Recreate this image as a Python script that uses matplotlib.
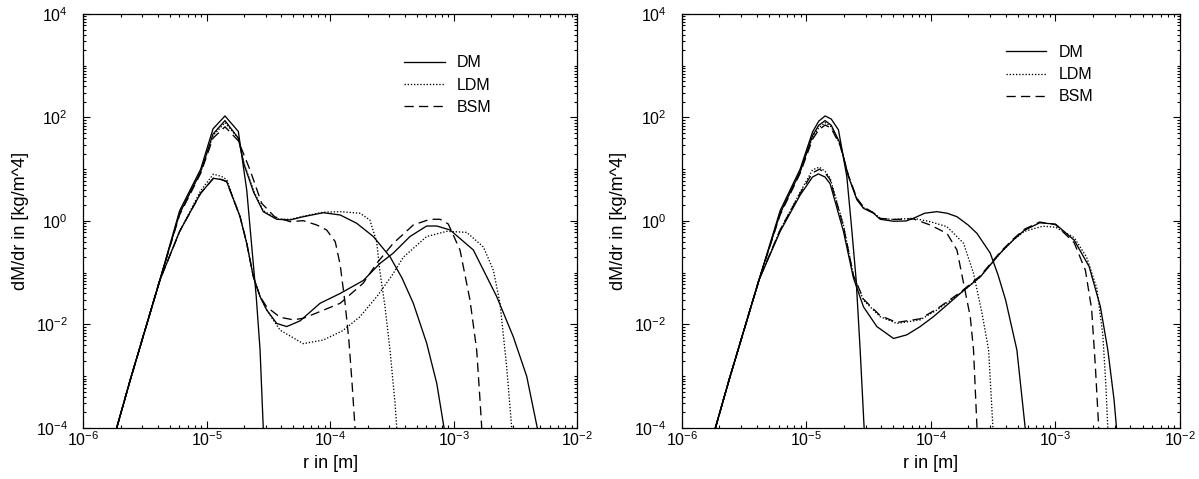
import numpy as np
import matplotlib
matplotlib.use("Agg")
import matplotlib.pyplot as plt
from matplotlib.ticker import FixedLocator, LogLocator, LogFormatterSciNotation, NullFormatter
from matplotlib.lines import Line2D

plt.rcParams['font.family'] = ['Liberation Sans', 'DejaVu Sans']
plt.rcParams['mathtext.default'] = 'regular'

# all values as log10 exponents: (log10 r, log10 dM/dr)

# shared rising flank
rise_lr = [-5.73, -5.62, -5.38]
rise_lv = [-4.0, -3.07, -1.14]

# ---------------- left panel ----------------
L_init_lr = rise_lr + [-5.22, -5.05, -4.95, -4.853, -4.745, -4.677, -4.636, -4.60, -4.569, -4.543]
L_init_lv = rise_lv + [0.20, 1.0, 1.78, 2.03, 1.73, 0.60, -0.50, -1.46, -2.49, -4.0]

L_dm1_lr = rise_lr + [-5.22, -5.05, -4.95, -4.853, -4.745, -4.70, -4.62, -4.543, -4.434, -4.326, -4.219,
                      -4.057, -3.92, -3.786, -3.652, -3.517, -3.42, -3.328, -3.22, -3.138, -3.079]
L_dm1_lv = rise_lv + [0.15, 0.95, 1.68, 1.94, 1.60, 1.10, 0.55, 0.18, 0.033, 0.02, 0.083,
                      0.16, 0.116, -0.045, -0.30, -0.69, -1.10, -1.59, -2.36, -3.14, -4.0]

L_ldm1_lr = rise_lr + [-5.22, -5.05, -4.95, -4.853, -4.745, -4.70, -4.62, -4.543, -4.434, -4.326, -4.219,
                       -4.057, -3.92, -3.76, -3.68, -3.625, -3.60, -3.557, -3.517, -3.476, -3.462]
L_ldm1_lv = rise_lv + [0.15, 0.95, 1.65, 1.90, 1.60, 1.12, 0.58, 0.20, 0.04, 0.03, 0.09,
                       0.17, 0.18, 0.15, 0.02, -0.40, -0.95, -1.66, -2.49, -3.52, -4.0]

L_bsm1_lr = rise_lr + [-5.22, -5.05, -4.95, -4.853, -4.745, -4.65, -4.556, -4.45, -4.326, -4.219, -4.11,
                       -4.03, -3.96, -3.92, -3.88, -3.85, -3.825, -3.80]
L_bsm1_lv = rise_lv + [0.12, 0.92, 1.60, 1.82, 1.55, 0.985, 0.342, 0.08, -0.013, 0.006, -0.077,
                       -0.174, -0.40, -0.85, -1.60, -2.30, -3.10, -4.0]

L_dm2_lr = rise_lr + [-5.22, -5.05, -4.947, -4.88, -4.839, -4.731, -4.677, -4.623, -4.569, -4.515,
                      -4.434, -4.353, -4.245, -4.083, -3.92, -3.733, -3.598, -3.49, -3.355, -3.22, -3.138,
                      -3.03, -2.842, -2.653, -2.518, -2.41, -2.324]
L_dm2_lv = rise_lv + [-0.20, 0.535, 0.825, 0.80, 0.76, 0.083, -0.43, -1.08, -1.46, -1.72,
                      -1.98, -2.04, -1.93, -1.59, -1.40, -1.15, -0.82, -0.62, -0.30, -0.097, -0.097,
                      -0.174, -0.56, -1.46, -2.24, -3.0, -4.0]

L_ldm2_lr = rise_lr + [-5.22, -5.05, -4.947, -4.88, -4.839, -4.731, -4.677, -4.623, -4.569, -4.515,
                       -4.407, -4.219, -4.057, -3.90, -3.76, -3.62, -3.50, -3.409, -3.22, -3.058,
                       -2.896, -2.761, -2.68, -2.626, -2.572, -2.531]
L_ldm2_lv = rise_lv + [-0.20, 0.585, 0.905, 0.86, 0.80, 0.083, -0.43, -1.08, -1.46, -1.72,
                       -2.11, -2.37, -2.30, -2.12, -1.85, -1.45, -1.05, -0.70, -0.30, -0.20,
                       -0.22, -0.50, -0.95, -1.59, -2.82, -4.0]

L_bsm2_lr = rise_lr + [-5.22, -5.05, -4.947, -4.88, -4.839, -4.731, -4.677, -4.623, -4.569, -4.515,
                       -4.407, -4.30, -4.219, -4.083, -3.92, -3.733, -3.625, -3.49, -3.328, -3.193, -3.112,
                       -3.045, -2.95, -2.869, -2.815, -2.788, -2.774]
L_bsm2_lv = rise_lv + [-0.20, 0.535, 0.825, 0.80, 0.76, 0.083, -0.43, -1.08, -1.46, -1.66,
                       -1.86, -1.91, -1.88, -1.75, -1.59, -1.20, -0.82, -0.43, -0.077, 0.033, 0.033,
                       -0.058, -0.56, -1.53, -2.49, -3.46, -4.0]

# ---------------- right panel ----------------
R_init_lr = rise_lr + [-5.21, -5.05, -4.95, -4.90, -4.849, -4.80, -4.742, -4.675, -4.635, -4.60, -4.568, -4.536]
R_init_lv = rise_lv + [0.20, 1.0, 1.72, 1.93, 2.03, 1.97, 1.76, 0.86, -0.17, -1.14, -2.49, -4.0]

R_dm1_lr = rise_lr + [-5.21, -5.05, -4.95, -4.90, -4.849, -4.80, -4.729, -4.662, -4.594, -4.541, -4.461, -4.407,
                      -4.30, -4.20, -4.14, -4.05, -3.952, -3.87, -3.791, -3.70, -3.63, -3.524, -3.46, -3.40,
                      -3.31, -3.243]
R_dm1_lv = rise_lv + [0.15, 0.95, 1.65, 1.85, 1.94, 1.85, 1.50, 0.86, 0.41, 0.245, 0.15, 0.033,
                      -0.005, 0.0, 0.052, 0.15, 0.18, 0.15, 0.083, -0.08, -0.24, -0.62, -1.05, -1.53,
                      -2.49, -4.0]

R_ldm1_lr = rise_lr + [-5.21, -5.05, -4.95, -4.90, -4.849, -4.80, -4.729, -4.662, -4.594, -4.541, -4.461, -4.407,
                       -4.30, -4.14, -4.006, -3.871, -3.738, -3.658, -3.59, -3.537, -3.502]
R_ldm1_lv = rise_lv + [0.15, 0.95, 1.62, 1.80, 1.90, 1.82, 1.48, 0.86, 0.43, 0.26, 0.16, 0.05,
                       0.03, 0.052, -0.013, -0.11, -0.43, -1.01, -1.78, -2.49, -4.0]

R_bsm1_lr = rise_lr + [-5.21, -5.05, -4.95, -4.90, -4.849, -4.80, -4.729, -4.662, -4.594, -4.541, -4.461, -4.407,
                       -4.30, -4.14, -4.006, -3.871, -3.791, -3.738, -3.684, -3.658, -3.63]
R_bsm1_lv = rise_lv + [0.12, 0.92, 1.58, 1.76, 1.855, 1.79, 1.46, 0.88, 0.44, 0.27, 0.16, 0.05,
                       0.03, 0.04, -0.077, -0.24, -0.56, -1.20, -1.85, -2.49, -4.0]

R_dm2_lr = rise_lr + [-5.21, -5.05, -4.95, -4.903, -4.85, -4.809, -4.702, -4.622, -4.541, -4.434, -4.30,
                      -4.193, -4.086, -3.98, -3.85, -3.765, -3.604, -3.443, -3.34, -3.25, -3.127, -3.0,
                      -2.85, -2.73, -2.64, -2.58, -2.53, -2.51]
R_dm2_lv = rise_lv + [-0.20, 0.50, 0.85, 0.91, 0.85, 0.72, -0.20, -1.10, -1.66, -2.04, -2.27,
                      -2.20, -2.04, -1.85, -1.58, -1.40, -1.08, -0.62, -0.37, -0.18, -0.035, -0.06,
                      -0.37, -0.88, -1.65, -2.49, -3.45, -4.0]

R_ldm2_lr = rise_lr + [-5.21, -5.05, -4.95, -4.895, -4.85, -4.809, -4.702, -4.622,
                       -4.541, -4.407, -4.273, -4.086, -3.952, -3.765, -3.604, -3.443, -3.34, -3.25,
                       -3.10, -3.0, -2.85, -2.75, -2.668, -2.62, -2.595, -2.58]
R_ldm2_lv = rise_lv + [-0.17, 0.555, 0.99, 1.04, 0.96, 0.83, -0.08, -1.05,
                       -1.53, -1.85, -1.98, -1.91, -1.72, -1.40, -1.08, -0.62, -0.37, -0.20,
                       -0.10, -0.12, -0.32, -0.70, -1.30, -2.20, -3.20, -4.0]

R_bsm2_lr = rise_lr + [-5.21, -5.05, -4.95, -4.895, -4.85, -4.809, -4.702, -4.622,
                       -4.541, -4.407, -4.273, -4.086, -3.952, -3.765, -3.604, -3.443, -3.34, -3.25,
                       -3.127, -3.0, -2.85, -2.76, -2.71, -2.68, -2.653]
R_bsm2_lv = rise_lv + [-0.17, 0.535, 0.93, 1.0, 0.93, 0.80, -0.10, -1.05,
                       -1.51, -1.83, -1.96, -1.89, -1.70, -1.38, -1.06, -0.60, -0.35, -0.16,
                       -0.02, -0.07, -0.42, -0.95, -1.70, -2.80, -4.0]

labels = ["DM", "LDM", "BSM"]

solid = '-'
dotted = (0, (1, 1.4))
dashed = (0, (7, 4))


def curve(lr, lv):
    return 10.0 ** np.array(lr), 10.0 ** np.array(lv)


panels = [
    [(L_init_lr, L_init_lv, solid), (L_dm1_lr, L_dm1_lv, solid), (L_ldm1_lr, L_ldm1_lv, dotted),
     (L_bsm1_lr, L_bsm1_lv, dashed), (L_dm2_lr, L_dm2_lv, solid), (L_ldm2_lr, L_ldm2_lv, dotted),
     (L_bsm2_lr, L_bsm2_lv, dashed)],
    [(R_init_lr, R_init_lv, solid), (R_dm1_lr, R_dm1_lv, solid), (R_ldm1_lr, R_ldm1_lv, dotted),
     (R_bsm1_lr, R_bsm1_lv, dashed), (R_dm2_lr, R_dm2_lv, solid), (R_ldm2_lr, R_ldm2_lv, dotted),
     (R_bsm2_lr, R_bsm2_lv, dashed)],
]

fig = plt.figure(figsize=(11.99, 4.79), dpi=100)
ax_pos = [[0.0695, 0.1065, 0.412, 0.8643], [0.5686, 0.1065, 0.4156, 0.8643]]
legend_y = [0.9, 0.925]

for k, curves in enumerate(panels):
    ax = fig.add_axes(ax_pos[k])
    for lr, lv, ls in curves:
        r, v = curve(lr, lv)
        ax.plot(r, v, color='black', linestyle=ls, linewidth=0.95)
    ax.set_xscale('log')
    ax.set_yscale('log')
    ax.set_xlim(1e-6, 1e-2)
    ax.set_ylim(1e-4, 1e4)
    ax.xaxis.set_major_locator(FixedLocator([1e-6, 1e-5, 1e-4, 1e-3, 1e-2]))
    ax.yaxis.set_major_locator(FixedLocator([1e-4, 1e-2, 1e0, 1e2, 1e4]))
    ax.xaxis.set_major_formatter(LogFormatterSciNotation())
    ax.yaxis.set_major_formatter(LogFormatterSciNotation())
    ax.xaxis.set_minor_locator(LogLocator(base=10, subs=np.arange(2, 10), numticks=100))
    ax.yaxis.set_minor_locator(LogLocator(base=10, subs=np.arange(1, 10), numticks=100))
    ax.xaxis.set_minor_formatter(NullFormatter())
    ax.yaxis.set_minor_formatter(NullFormatter())
    ax.tick_params(which='both', direction='in', top=True, right=True, labelsize=11.5, width=0.8)
    ax.tick_params(which='major', length=5)
    ax.tick_params(which='minor', length=2.5)
    ax.tick_params(axis='x', which='major', pad=2)
    ax.tick_params(axis='y', which='major', pad=11)
    for s in ax.spines.values():
        s.set_linewidth(0.9)
    ax.set_xlabel('r in [m]', fontsize=13, labelpad=4)
    ax.set_ylabel('dM/dr in [kg/m^4]', fontsize=13, labelpad=5)

    handles = [Line2D([], [], color='black', linestyle=ls, linewidth=0.95) for ls in (solid, dotted, dashed)]
    ax.legend(handles, labels, loc='upper left', bbox_to_anchor=(0.65, legend_y[k]), frameon=False,
              fontsize=11.5, handlelength=2.55, handletextpad=0.75, labelspacing=0.45,
              borderaxespad=0, borderpad=0)

fig.savefig('out.png', dpi=100)
